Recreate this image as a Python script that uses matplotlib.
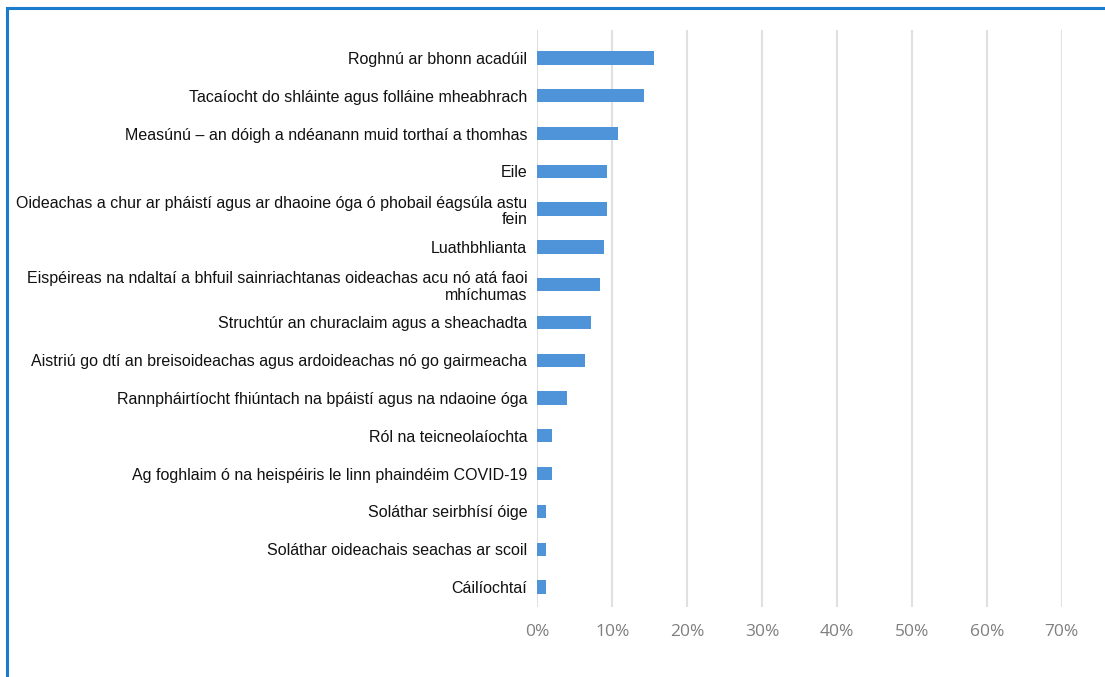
import matplotlib
matplotlib.use("Agg")
import matplotlib.pyplot as plt
from matplotlib.lines import Line2D

categories = [
    "Roghnú ar bhonn acadúil",
    "Tacaíocht do shláinte agus folláine mheabhrach",
    "Measúnú – an dóigh a ndéanann muid torthaí a thomhas",
    "Eile",
    "Oideachas a chur ar pháistí agus ar dhaoine óga ó phobail éagsúla astu\nfein",
    "Luathbhlianta",
    "Eispéireas na ndaltaí a bhfuil sainriachtanas oideachas acu nó atá faoi\nmhíchumas",
    "Struchtúr an churaclaim agus a sheachadta",
    "Aistriú go dtí an breisoideachas agus ardoideachas nó go gairmeacha",
    "Rannpháirtíocht fhiúntach na bpáistí agus na ndaoine óga",
    "Ról na teicneolaíochta",
    "Ag foghlaim ó na heispéiris le linn phaindéim COVID-19",
    "Soláthar seirbhísí óige",
    "Soláthar oideachais seachas ar scoil",
    "Cáilíochtaí",
]
values = [15.6, 14.3, 10.7, 9.3, 9.3, 8.9, 8.4, 7.2, 6.3, 4.0, 1.9, 1.9, 1.1, 1.1, 1.1]
xticks = [0, 10, 20, 30, 40, 50, 60, 70]
xticklabels = ["0%", "10%", "20%", "30%", "40%", "50%", "60%", "70%"]

W, H = 1105, 677
fig = plt.figure(figsize=(W / 100, H / 100), dpi=100)
ax = fig.add_axes([537 / W, (H - 607) / H, 525 / W, 577 / H])

ypos = list(range(len(categories)))
ax.barh(ypos, values, height=0.35, color="#4f93d8", zorder=3)
ax.set_ylim(14.53, -0.74)
ax.set_xlim(-0.05, 70.05)
ax.set_xticks(xticks)
ax.set_xticklabels(xticklabels, fontsize=12.5, color="#7f7f7f", family="Open Sans")
ax.set_yticks(ypos)
ax.set_yticklabels(categories, fontsize=11.5, family="Liberation Sans", color="#111111",
                   linespacing=1.15)
for lbl in ax.get_yticklabels():
    lbl.set_multialignment("right")
ax.tick_params(axis="x", length=0, pad=12)
ax.tick_params(axis="y", length=0, pad=7)
ax.grid(axis="x", color="#e0e0e0", lw=1.5, zorder=0)
for s in ax.spines.values():
    s.set_visible(False)

# figure border (left and top)
fig.add_artist(Line2D([6.5 / W, 6.5 / W], [0, 1 - 8 / H], transform=fig.transFigure,
                      color="#1a7ccc", lw=2.2))
fig.add_artist(Line2D([6.5 / W, 1], [1 - 8 / H, 1 - 8 / H], transform=fig.transFigure,
                      color="#1a7ccc", lw=2.2))

fig.savefig("out.png", dpi=100)
